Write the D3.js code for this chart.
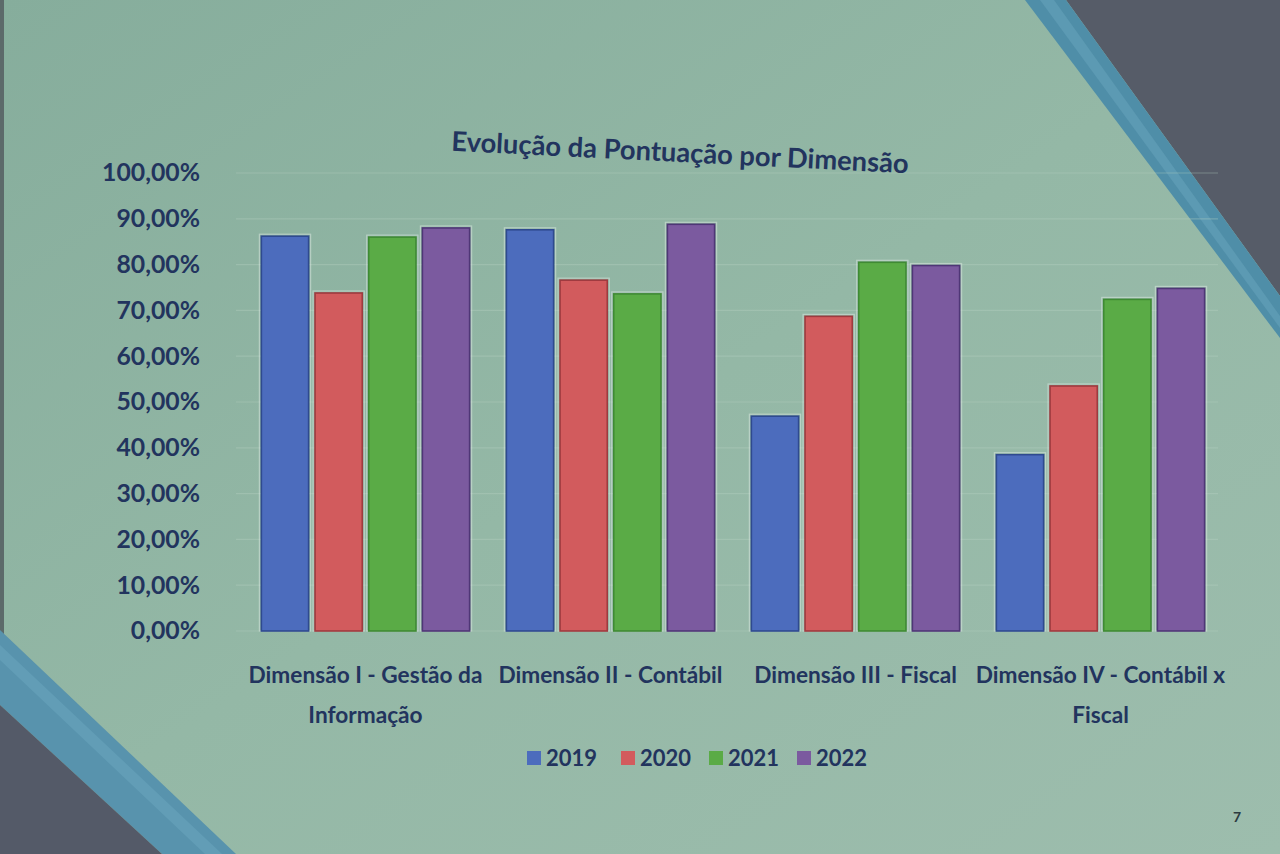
<!DOCTYPE html>
<html><head><meta charset="utf-8">
<script src="https://cdn.jsdelivr.net/npm/d3@7/dist/d3.min.js"></script>
<style>html,body{margin:0;padding:0;overflow:hidden;background:#93b5a3}</style>
</head><body>
<svg id="c" width="1280" height="854"></svg>
<script>
const title = "Evolução da Pontuação por Dimensão";
const categories = ["Dimensão I - Gestão da Informação", "Dimensão II - Contábil", "Dimensão III - Fiscal", "Dimensão IV - Contábil x Fiscal"];
const categoryLines = [["Dimensão I - Gestão da", "Informação"], ["Dimensão II - Contábil"], ["Dimensão III - Fiscal"], ["Dimensão IV - Contábil x", "Fiscal"]];
const years = ["2019", "2020", "2021", "2022"];
const v2019 = [0.862, 0.876, 0.469, 0.385];
const v2020 = [0.738, 0.766, 0.687, 0.535];
const v2021 = [0.860, 0.736, 0.805, 0.724];
const v2022 = [0.880, 0.888, 0.798, 0.748];
const yTicks = [0, 0.1, 0.2, 0.3, 0.4, 0.5, 0.6, 0.7, 0.8, 0.9, 1.0];
const pageNumber = "7";

const series = [v2019, v2020, v2021, v2022];
const colors = ["#4c6cbd", "#d25b5d", "#5aab46", "#7b5a9f"];
const strokes = ["#2f4a8f", "#9e3a3f", "#3f8a34", "#4f3676"];
const FONT = "Lato, 'Open Sans', sans-serif";
const INK = "#22345e";

function fitSize(textSel, target) {
  const w = textSel.node().getComputedTextLength();
  const fs = +textSel.attr("font-size");
  return fs * target / w;
}

const svg = d3.select("#c");
const defs = svg.append("defs");
const bg = defs.append("linearGradient").attr("id","bg").attr("x1","0").attr("y1","0").attr("x2","1").attr("y2","1");
bg.append("stop").attr("offset","0").attr("stop-color","#86ad9c");
bg.append("stop").attr("offset","0.5").attr("stop-color","#94b8a6");
bg.append("stop").attr("offset","1").attr("stop-color","#9dbdad");
svg.append("rect").attr("width",1280).attr("height",854).attr("fill","url(#bg)");

// slide decorations
svg.append("rect").attr("x",0).attr("y",0).attr("width",4).attr("height",640).attr("fill","#5c6a6a");
svg.append("polygon").attr("points","1066,0 1280,0 1280,296").attr("fill","#565c68");
svg.append("polygon").attr("points","1025,0 1066,0 1280,296 1280,338").attr("fill","#4f8ea8");
svg.append("polygon").attr("points","1040,0 1054,0 1280,316 1280,328").attr("fill","#6aa6bd").attr("opacity",0.5);
svg.append("polygon").attr("points","0,630 0,705 162,854 236,854").attr("fill","#5893ad");
svg.append("polygon").attr("points","0,645 0,660 205,854 222,854").attr("fill","#6ca8bf").attr("opacity",0.5);
svg.append("polygon").attr("points","0,705 0,854 162,854").attr("fill","#545a68");

const y = d3.scaleLinear().domain([0, 1]).range([631, 173]);
const x0 = d3.scaleBand().domain(categories).range([243, 1223]).paddingInner(0.15).paddingOuter(0.075);
const x1 = d3.scaleBand().domain(years).range([0, x0.bandwidth()]).paddingInner(0.12);

const loc = d3.formatLocale({decimal: ",", thousands: ".", grouping: [3], currency: ["R$", ""]});
const fmt = loc.format(".2%");

// gridlines
svg.append("g").selectAll("line").data(yTicks).join("line")
  .attr("x1", 236).attr("x2", 1218)
  .attr("y1", d => y(d)).attr("y2", d => y(d))
  .attr("stroke", "#b9d3c4").attr("stroke-width", 1.2).attr("opacity", 0.35);

// y axis
const yAxis = svg.append("g").attr("transform", "translate(200,0)")
  .call(d3.axisLeft(y).tickValues(yTicks).tickFormat(fmt).tickSize(0).tickPadding(0));
yAxis.select(".domain").remove();
const tickTexts = yAxis.selectAll("text").attr("font-family", FONT).attr("font-size", 22)
  .attr("font-weight", 700).attr("fill", INK).attr("x", 0).attr("text-anchor", "end");
const tickFs = fitSize(yAxis.selectAll("text").filter(d => d === 1), 98);
tickTexts.attr("font-size", tickFs);

// bars
const groups = svg.append("g").selectAll("g").data(categories).join("g")
  .attr("transform", d => `translate(${x0(d)},0)`);
const barData = (d, i) => years.map((yr, j) => ({yr, j, v: series[j][i]}));
groups.selectAll("rect.halo").data(barData).join("rect")
  .attr("class","halo")
  .attr("x", d => x1(d.yr) - 2).attr("width", x1.bandwidth() + 4)
  .attr("y", d => y(d.v) - 2).attr("height", d => y(0) - y(d.v) + 2)
  .attr("fill", "none").attr("stroke", "#d8e6df").attr("stroke-width", 1.2).attr("opacity", 0.55);
groups.selectAll("rect.bar").data(barData).join("rect")
  .attr("class","bar")
  .attr("x", d => x1(d.yr)).attr("width", x1.bandwidth())
  .attr("y", d => y(d.v)).attr("height", d => y(0) - y(d.v))
  .attr("fill", d => colors[d.j]).attr("stroke", d => strokes[d.j]).attr("stroke-width", 1.6);

// x labels
const xl = svg.append("g").selectAll("text").data(categories).join("text")
  .attr("x", d => x0(d) + x0.bandwidth() / 2).attr("y", 683)
  .attr("text-anchor", "middle").attr("font-family", FONT)
  .attr("font-size", 22).attr("font-weight", 700).attr("fill", INK);
xl.selectAll("tspan").data((d, i) => categoryLines[i]).join("tspan")
  .attr("x", function() { return d3.select(this.parentNode).attr("x"); })
  .attr("dy", (d, k) => k === 0 ? 0 : 40).text(d => d);
const probe = svg.append("text").attr("font-family", FONT).attr("font-size", 22).attr("font-weight", 700).text(categoryLines[0][0]);
const catFs = fitSize(probe, 234);
probe.remove();
xl.attr("font-size", catFs);

// title
const t = svg.append("text").attr("x", 680).attr("y", 162).attr("text-anchor", "middle")
  .attr("transform", "rotate(2.8,680,154)")
  .attr("font-family", FONT).attr("font-size", 25).attr("font-weight", 700)
  .attr("fill", INK).text(title);
t.attr("font-size", fitSize(t, 458));

// legend
const legX = [527, 621, 709, 797];
const leg = svg.append("g").selectAll("g").data(years).join("g")
  .attr("transform", (d, i) => `translate(${legX[i]},758)`);
leg.append("rect").attr("x", 0).attr("y", -7).attr("width", 14).attr("height", 14)
  .attr("fill", (d, i) => colors[i]);
const legT = leg.append("text").attr("x", 19).attr("y", 8).attr("font-family", FONT)
  .attr("font-size", 23).attr("font-weight", 700).attr("fill", INK).text(d => d);
legT.attr("font-size", fitSize(legT.filter((d, i) => i === 0), 51));

// page number
svg.append("text").attr("x", 1237).attr("y", 822).attr("text-anchor", "middle")
  .attr("font-family", FONT).attr("font-size", 14).attr("font-weight", 700)
  .attr("fill", "#2b3a40").text(pageNumber);
</script>
</body></html>
